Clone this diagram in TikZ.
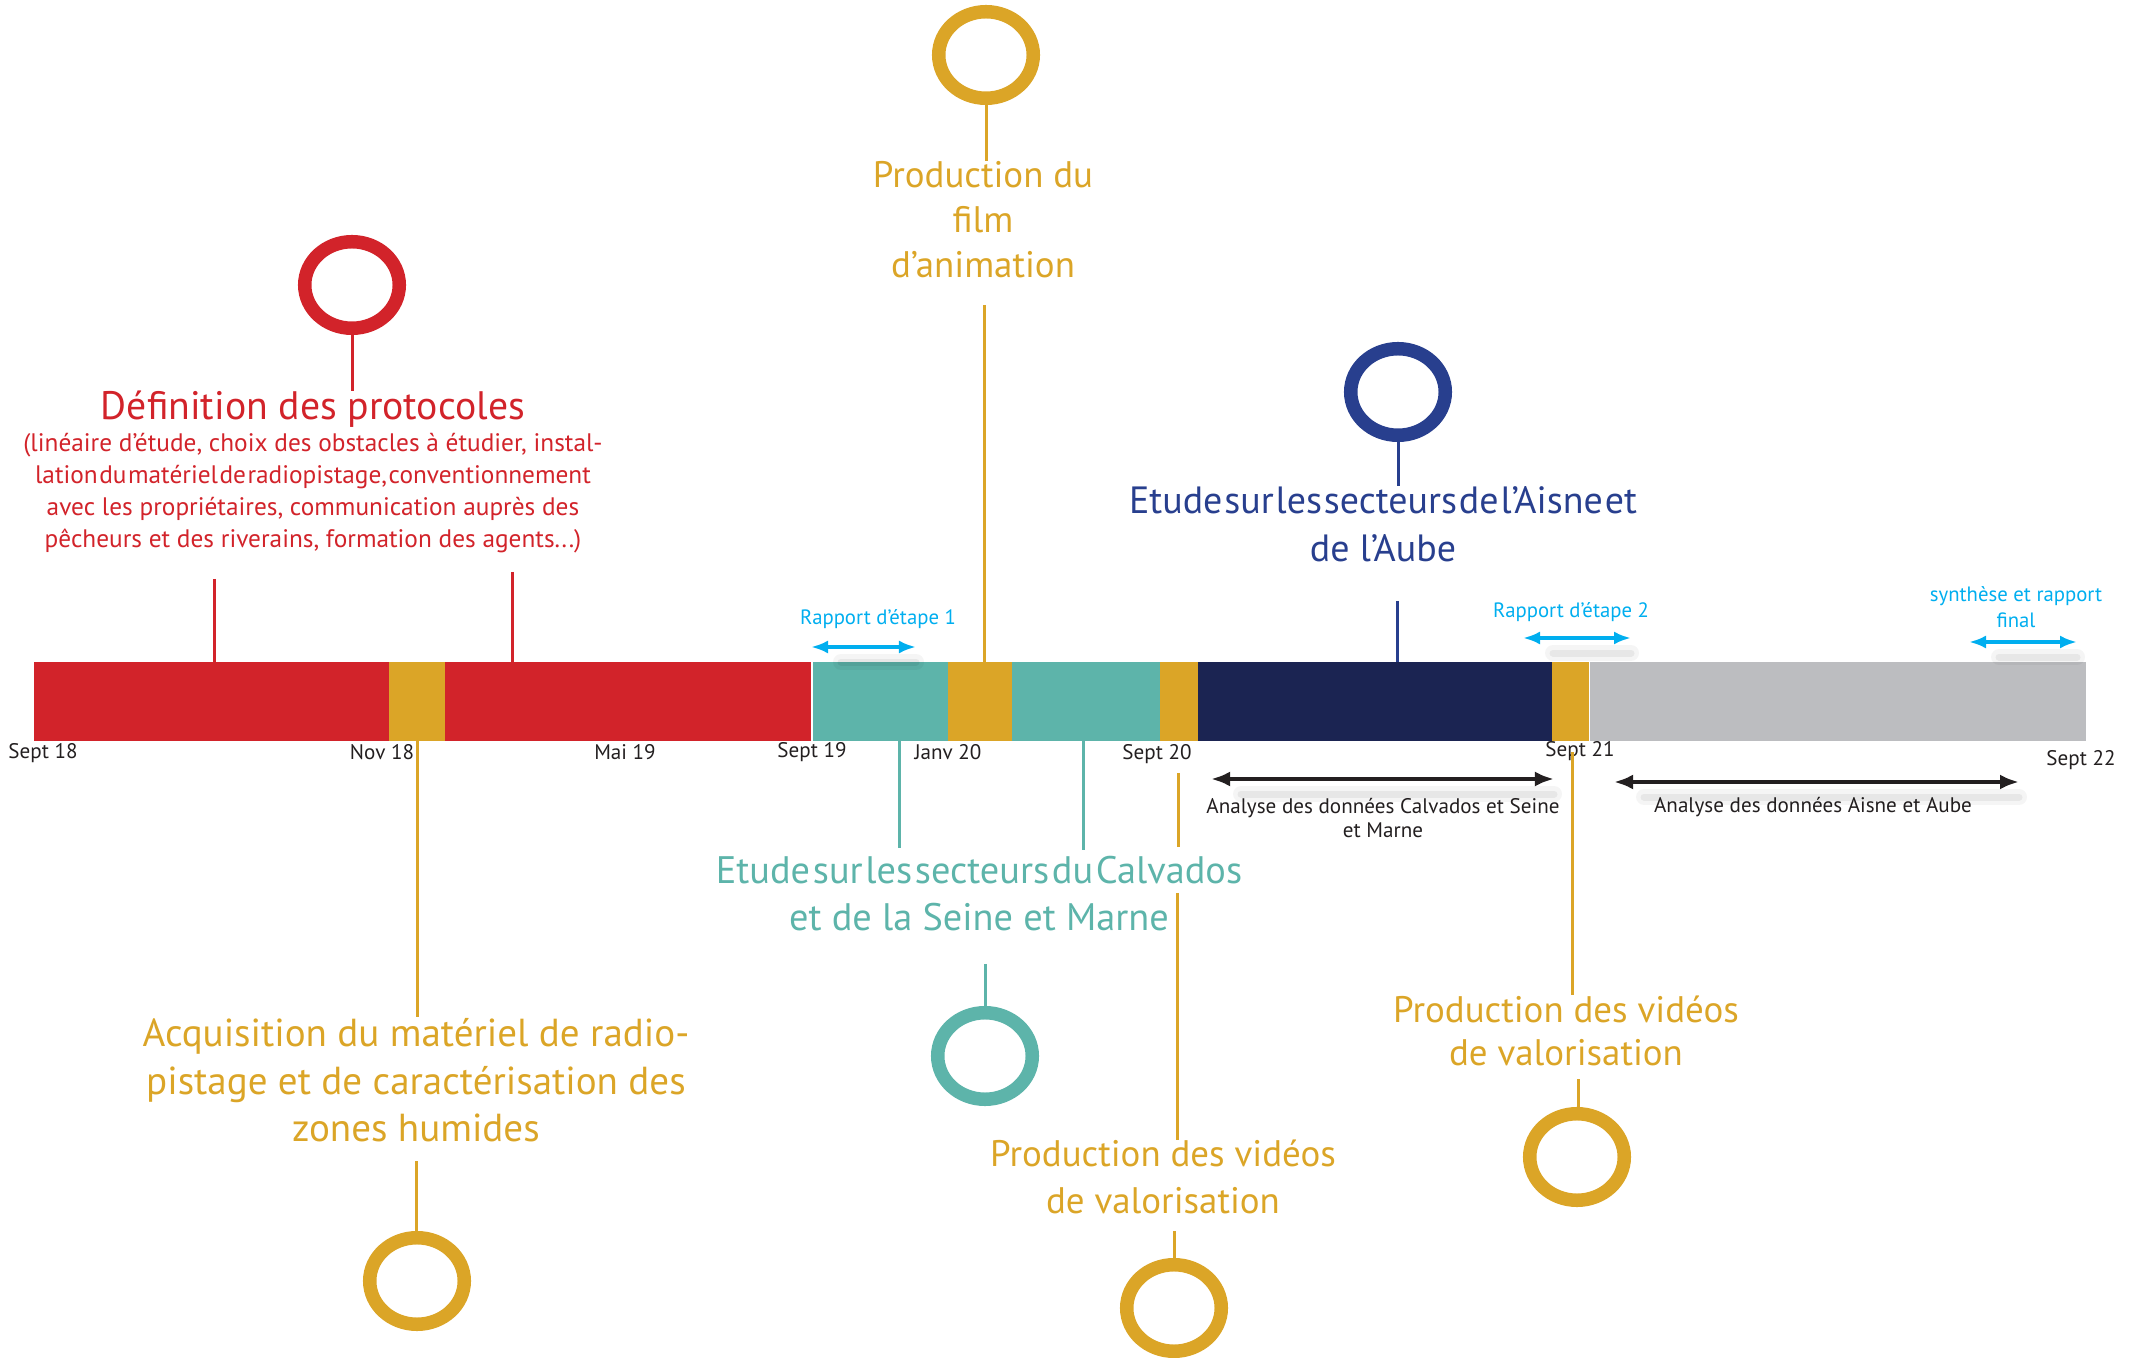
\documentclass[tikz,border=0pt]{standalone}
\usepackage{fontspec}
\setmainfont{PT Sans}
\usetikzlibrary{arrows.meta, positioning, shapes.geometric}
\definecolor{rouge}{HTML}{D2232A}
\definecolor{ocre}{HTML}{DBA527}
\definecolor{turquoise}{HTML}{5DB4AA}
\definecolor{marine}{HTML}{1B2452}
\definecolor{bleu}{HTML}{283F8E}
\definecolor{gris}{HTML}{BCBDC0}
\definecolor{ciel}{HTML}{00AEEF}
\definecolor{encre}{HTML}{231F20}

\begin{document}
\begin{tikzpicture}[x=0.01cm, y=-0.01cm]
\tikzset{
  ring/.style={ellipse, draw=#1, line width=0.135cm, minimum width=0.945cm, minimum height=0.865cm, inner sep=0pt},
  link/.style={draw=#1, line width=0.03cm},
  lbl/.style={text=#1, inner sep=0pt, anchor=base, align=center},
  datelbl/.style={text=encre, inner sep=0pt, anchor=base, font=\fontsize{6}{7}\selectfont},
  span/.style={draw=#1, line width=0.035cm, {Latex[length=0.17cm, width=0.13cm]}-{Latex[length=0.17cm, width=0.13cm]},
    preaction={draw=black, opacity=0.04, line width=0.16cm, arrows=-, line cap=round, shorten <=0.3cm, transform canvas={yshift=-0.15cm}},
    preaction={draw=black, opacity=0.06, line width=0.07cm, arrows=-, line cap=round, shorten <=0.3cm, transform canvas={yshift=-0.15cm}}}
}
\useasboundingbox (0,0) rectangle (2138,1358);

\coordinate (haut) at (0,662);
\coordinate (bas) at (0,741);
\foreach \a/\b/\c in {34/389/rouge, 389/445/ocre, 445/811/rouge, 813/948/turquoise, 948/1012/ocre,
  1012/1160/turquoise, 1160/1198/ocre, 1198/1552/marine, 1552/1589/ocre, 1590/2086/gris}
  \fill[\c] (\a,662) rectangle (\b,741);

\foreach \x/\y/\d [count=\i] in {43/759/Sept 18, 382/760/Nov 18, 625/760/Mai 19, 812/758/Sept 19,
  948/760/Janv 20, 1157/760/Sept 20, 1580/757/Sept 21, 2081/766/Sept 22}
  \node[datelbl] (d\i) at (\x,\y) {\d};

\node[ring=rouge] (cDef) at (352,285) {};
\node[ring=ocre] (cFilm) at (986,55) {};
\node[ring=bleu] (cAisne) at (1398,392) {};
\node[ring=turquoise] (cCalv) at (985,1056) {};
\node[ring=ocre] (cAcq) at (417,1281) {};
\node[ring=ocre] (cVid1) at (1174,1308) {};
\node[ring=ocre] (cVid2) at (1577,1157) {};

\node[lbl=rouge, font=\fontsize{11.3}{13}\selectfont] (tDef) at (313,420) {Définition des protocoles};
\node[lbl=rouge, font=\fontsize{7.2}{9.1}\selectfont] (tDefSub) at (313,548)
  {(linéaire d’étude, choix des obstacles à étudier, instal-\\
   {\spaceskip=0.06em\relax lation du matériel de radiopistage, conventionnement}\\
   avec les propriétaires, communication auprès des\\
   pêcheurs et des riverains, formation des agents...)};
\node[lbl=ocre, font=\fontsize{10.5}{12.8}\selectfont] (tFilm) at (983,278) {Production du\\film\\d’animation};
\node[lbl=bleu, font=\fontsize{10.8}{13.7}\selectfont] (tAisne) at (1383,562)
  {{\spaceskip=0.05em\relax Etude sur les secteurs de l’Aisne et}\\de l’Aube};
\node[lbl=turquoise, font=\fontsize{10.9}{13.4}\selectfont] (tCalv) at (979,931)
  {{\spaceskip=0.07em\relax Etude sur les secteurs du Calvados}\\et de la Seine et Marne};
\node[lbl=ocre, font=\fontsize{11.1}{13.6}\selectfont] (tAcq) at (416,1142)
  {Acquisition du matériel de radio-\\pistage et de caractérisation des\\zones humides};
\node[lbl=ocre, font=\fontsize{10.5}{13.1}\selectfont] (tVid1) at (1163,1213) {Production des vidéos\\de valorisation};
\node[lbl=ocre, font=\fontsize{10.5}{12.5}\selectfont] (tVid2) at (1566,1066) {Production des vidéos\\de valorisation};

\node[lbl=ciel, font=\fontsize{5.9}{7.4}\selectfont] (tR1) at (878,625) {Rapport d’étape 1};
\node[lbl=ciel, font=\fontsize{5.9}{7.4}\selectfont] (tR2) at (1571,618) {Rapport d’étape 2};
\node[lbl=ciel, font=\fontsize{5.9}{7.4}\selectfont] (tSynth) at (2016,628) {synthèse et rapport\\final};
\node[lbl=encre, font=\fontsize{6}{7.1}\selectfont] (tAna1) at (1383,838) {Analyse des données Calvados et Seine\\et Marne};
\node[lbl=encre, font=\fontsize{6}{7.1}\selectfont] (tAna2) at (1813,813) {Analyse des données Aisne et Aube};

\coordinate (pDef1) at (214,579);
\coordinate (pDef2) at (512,572);
\coordinate (pFilm) at (984,305);
\coordinate (pAisne) at (1397,601);
\coordinate (pCalv1) at (899,848);
\coordinate (pCalv2) at (1083,850);
\coordinate (qCalv) at (985,964);
\coordinate (pAcq) at (417,1017);
\coordinate (qAcq) at (416,1161);
\coordinate (pVid1a) at (1178,773);
\coordinate (pVid1b) at (1178,847);
\coordinate (pVid1c) at (1177,893);
\coordinate (qVid1) at (1174,1231);
\coordinate (pVid2) at (1572,752);
\coordinate (qVid2) at (1578,1079);

\draw[link=rouge] (cDef.south) -- (cDef.south |- tDef.north);
\draw[link=rouge] (pDef1) -- (pDef1 |- haut);
\draw[link=rouge] (pDef2) -- (pDef2 |- haut);
\draw[link=ocre] (cFilm.south) -- (cFilm.south |- tFilm.north);
\draw[link=ocre] (pFilm) -- (pFilm |- haut);
\draw[link=bleu] (cAisne.south) -- (cAisne.south |- tAisne.north);
\draw[link=bleu] (pAisne) -- (pAisne |- haut);
\draw[link=turquoise] (pCalv1 |- bas) -- (pCalv1);
\draw[link=turquoise] (pCalv2 |- bas) -- (pCalv2);
\draw[link=turquoise] (qCalv) -- (qCalv |- cCalv.north);
\draw[link=ocre] (pAcq |- bas) -- (pAcq);
\draw[link=ocre] (qAcq) -- (qAcq |- cAcq.north);
\draw[link=ocre] (pVid1a) -- (pVid1b);
\draw[link=ocre] (pVid1c) -- (pVid1c |- tVid1.north);
\draw[link=ocre] (qVid1) -- (qVid1 |- cVid1.north);
\draw[link=ocre] (pVid2) -- (pVid2 |- tVid2.north);
\draw[link=ocre] (qVid2) -- (qVid2 |- cVid2.north);

\coordinate (r1a) at (811,647);
\coordinate (r1b) at (916,647);
\coordinate (r2a) at (1523,638);
\coordinate (r2b) at (1631,638);
\coordinate (sa) at (1969,642);
\coordinate (sb) at (2077,642);
\coordinate (a1a) at (1211,779);
\coordinate (a1b) at (1554,779);
\coordinate (a2a) at (1614,782);
\coordinate (a2b) at (2019,782);

\draw[span=ciel] (r1a) -- (r1b);
\draw[span=ciel] (r2a) -- (r2b);
\draw[span=ciel] (sa) -- (sb);
\draw[span=encre, line width=0.045cm, {Latex[length=0.19cm, width=0.15cm]}-{Latex[length=0.19cm, width=0.15cm]}] (a1a) -- (a1b);
\draw[span=encre, line width=0.045cm, {Latex[length=0.19cm, width=0.15cm]}-{Latex[length=0.19cm, width=0.15cm]}] (a2a) -- (a2b);
\end{tikzpicture}
\end{document}
